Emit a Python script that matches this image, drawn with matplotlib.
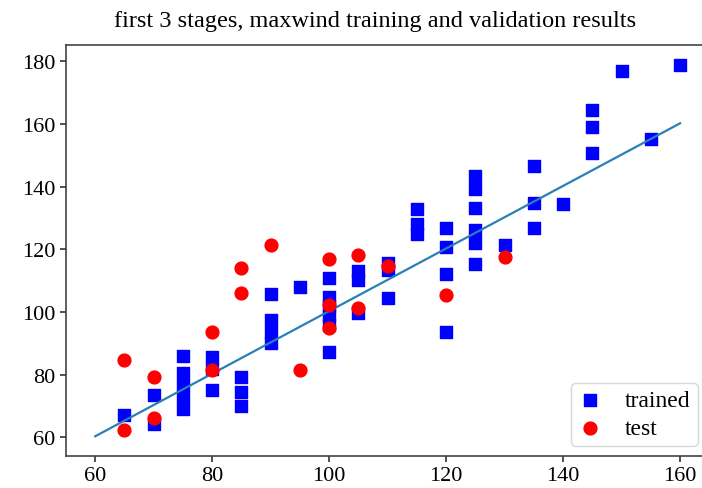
import numpy as np
import matplotlib
matplotlib.use("Agg")
from matplotlib import pyplot as plt

# trained points (blue squares)
trained_x = [65, 70, 70, 75, 75, 75, 75, 75, 80, 80, 80, 85, 85, 85,
             90, 90, 90, 90, 95, 100, 100, 100, 100, 100, 100, 105, 105, 105,
             110, 110, 110, 115, 115, 115, 120, 120, 120, 120,
             125, 125, 125, 125, 125, 125, 130, 135, 135, 135, 140,
             145, 145, 145, 150, 155, 160]
trained_y = [67.2, 73.5, 64.3, 85.9, 80.4, 76.6, 72.8, 69.0, 85.7, 81.8, 75.1, 79.3, 74.4, 70.1,
             105.6, 97.3, 93.7, 90.1, 108.1, 110.9, 104.9, 101.9, 98.9, 95.9, 87.1, 113.1, 110.3, 99.7,
             115.6, 113.3, 104.4, 132.8, 128.0, 124.8, 126.7, 120.7, 112.1, 93.7,
             143.5, 139.3, 133.3, 126.1, 121.9, 115.2, 121.2, 146.5, 134.8, 126.7, 134.5,
             164.5, 158.9, 150.6, 177.0, 155.2, 178.8]

# test points (red circles)
test_x = [65, 65, 70, 70, 80, 80, 85, 85, 90, 95, 100, 100, 100, 105, 105, 110, 120, 130]
test_y = [84.7, 62.4, 79.1, 66.1, 93.5, 81.3, 114.0, 106.1, 121.2, 81.6, 116.9, 102.2, 94.9,
          118.2, 101.3, 114.6, 105.5, 117.5]

# reference line
line_x = [60, 160]
line_y = [60.3, 160.2]

plt.rcParams['font.family'] = ['Liberation Serif', 'DejaVu Serif']

fig = plt.figure(figsize=(7.02, 4.89), dpi=100)
ax = fig.add_axes([66/702, 32/489, (709.3-66)/702, 411/489])

ax.scatter(trained_x, trained_y, marker='s', s=80, color='#0000ff', label='trained', zorder=2)
ax.plot(line_x, line_y, color='#2a7fb8', linewidth=1.6, zorder=3)
ax.scatter(test_x, test_y, marker='o', s=85, color='#ff0000', label='test', zorder=4)

ax.set_xlim(55, 165)
ax.set_ylim(54.0, 185.2)
ax.set_xticks(np.arange(60, 161, 20))
ax.set_yticks(np.arange(60, 181, 20))
ax.tick_params(labelsize=16, length=4, width=1.2, color='#333333')
for s in ax.spines.values():
    s.set_color('#444444')
    s.set_linewidth(1.2)

fig.text(375/702, 1 - 21/489, "first 3 stages, maxwind training and validation results",
         ha='center', va='center', fontsize=17.5)

ax.legend(loc='lower right', bbox_to_anchor=(698/702, 42/489), bbox_transform=fig.transFigure,
          fontsize=17, handlelength=1.0, handletextpad=1.0, labelspacing=0.25,
          borderpad=0.3, borderaxespad=0, scatterpoints=1)

fig.savefig("out.png", dpi=100)
